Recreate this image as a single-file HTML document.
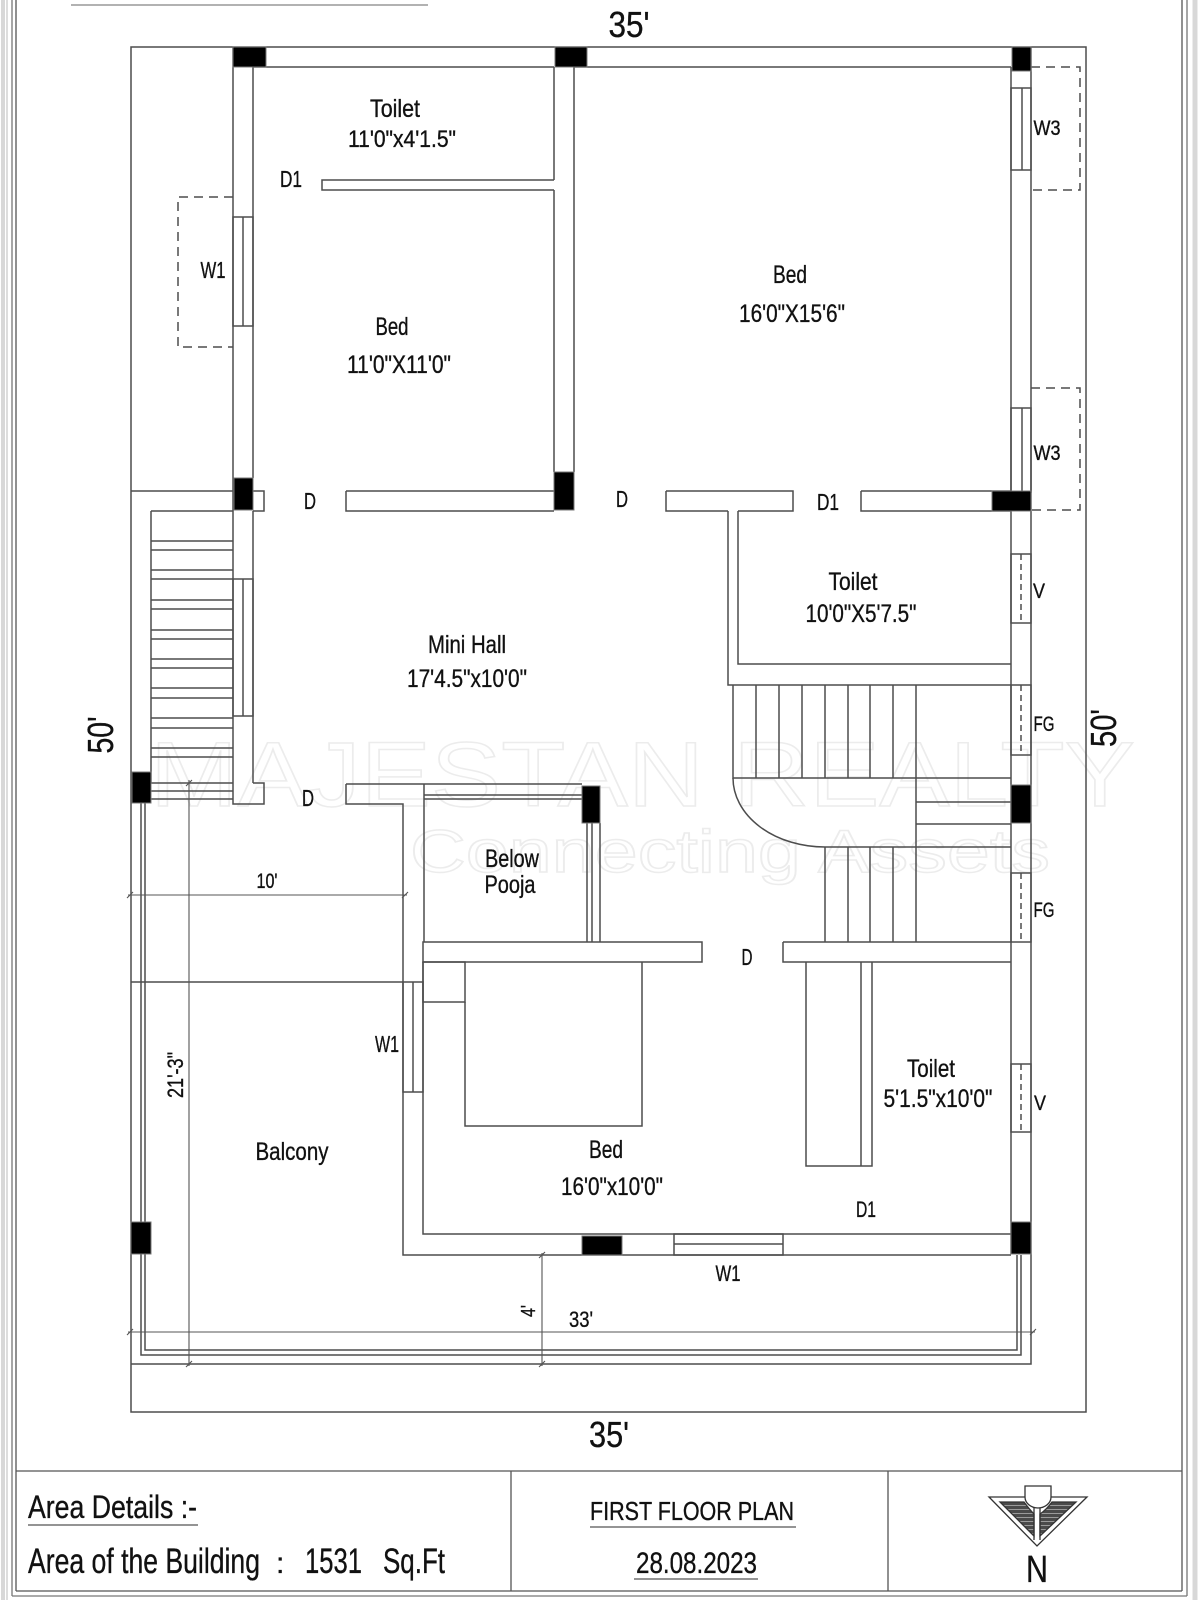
<!DOCTYPE html>
<html><head><meta charset="utf-8">
<style>
html,body{margin:0;padding:0;background:#fff;}
svg{display:block;}
text{font-family:"Liberation Sans Narrow","Liberation Sans",sans-serif;fill:#111;stroke:#111;stroke-width:0.35px;}
</style></head><body>
<svg width="1200" height="1600" viewBox="0 0 1200 1600" xmlns="http://www.w3.org/2000/svg">
<defs>
<pattern id="hatch" width="4" height="4" patternUnits="userSpaceOnUse">
<rect width="4" height="4" fill="#4a4a4a"/><line x1="0" y1="1.5" x2="4" y2="1.5" stroke="#9a9a9a" stroke-width="1"/>
</pattern>
</defs>
<rect width="1200" height="1600" fill="#fff"/>

<!-- watermark -->
<g fill="none" stroke="#ececec" stroke-width="1.5">
<text x="150" y="806" font-size="92" textLength="985" lengthAdjust="spacingAndGlyphs" style="fill:none;stroke:#ececec;stroke-width:1.5px;font-family:'Liberation Sans',sans-serif">MAJESTAN REALTY</text>
<text x="410" y="872" font-size="60" textLength="640" lengthAdjust="spacingAndGlyphs" style="fill:none;stroke:#ececec;stroke-width:1.5px;font-family:'Liberation Sans',sans-serif">Connecting Assets</text>
</g>

<!-- page frame -->
<g fill="none">
<line x1="3" y1="0" x2="3" y2="1600" stroke="#d8d8d8" stroke-width="4"/>
<line x1="7" y1="0" x2="7" y2="1600" stroke="#bbb" stroke-width="1"/>
<line x1="12" y1="0" x2="12" y2="1596" stroke="#777" stroke-width="1.3"/>
<line x1="16" y1="0" x2="16" y2="1591" stroke="#555" stroke-width="1.3"/>
<line x1="12" y1="1596" x2="1187" y2="1596" stroke="#777" stroke-width="1.3"/>
<line x1="16" y1="1591" x2="1182" y2="1591" stroke="#555" stroke-width="1.3"/>
<line x1="1182" y1="0" x2="1182" y2="1591" stroke="#555" stroke-width="1.3"/>
<line x1="1187" y1="0" x2="1187" y2="1596" stroke="#777" stroke-width="1.3"/>
<line x1="1195" y1="0" x2="1195" y2="1600" stroke="#d8d8d8" stroke-width="5"/>
<line x1="71" y1="5" x2="428" y2="5" stroke="#999" stroke-width="1.5"/>
</g>

<!-- title block -->
<g stroke="#555" stroke-width="1.3" fill="none">
<line x1="16" y1="1471" x2="1182" y2="1471"/>
<line x1="511" y1="1471" x2="511" y2="1591"/>
<line x1="888" y1="1471" x2="888" y2="1591"/>
<line x1="28" y1="1525" x2="198" y2="1525"/>
<line x1="590" y1="1527" x2="796" y2="1527"/>
<line x1="634" y1="1579" x2="758" y2="1579"/>
</g>
<text x="28" y="1518" font-size="32" textLength="169" lengthAdjust="spacingAndGlyphs">Area Details :-</text>
<text x="28" y="1573" font-size="35" textLength="232" lengthAdjust="spacingAndGlyphs">Area of the Building</text>
<text x="276" y="1573" font-size="30">:</text>
<text x="305" y="1573" font-size="35" textLength="57" lengthAdjust="spacingAndGlyphs">1531</text>
<text x="383" y="1573" font-size="35" textLength="62" lengthAdjust="spacingAndGlyphs">Sq.Ft</text>
<text x="590" y="1520" font-size="26" textLength="204" lengthAdjust="spacingAndGlyphs">FIRST FLOOR PLAN</text>
<text x="636" y="1573" font-size="30" textLength="121" lengthAdjust="spacingAndGlyphs">28.08.2023</text>

<!-- north arrow -->
<g stroke="#333" stroke-width="1.3">
<polygon points="989,1497 1087,1497 1037,1546" fill="#fff"/>
<path d="M1000,1502 L1024,1502 Q1030,1510 1034,1514 L1034,1536 Z" fill="url(#hatch)" stroke="#333"/>
<path d="M1076,1502 L1052,1502 Q1046,1510 1040,1514 L1040,1536 Z" fill="url(#hatch)" stroke="#333"/>
<path d="M1025,1486 H1051 V1497 A13 11 0 0 1 1025 1497 Z" fill="#fff"/>
<line x1="1034" y1="1508" x2="1034" y2="1540"/>
<line x1="1040" y1="1508" x2="1040" y2="1540"/>
</g>
<text x="1037" y="1582" font-size="38" text-anchor="middle" textLength="22" lengthAdjust="spacingAndGlyphs">N</text>

<!-- plan lines -->
<g fill="none" stroke="#4d4d4d" stroke-width="1.5">
<rect x="131" y="47" width="955" height="1365"/>
<path d="M253 67 H554 M574 67 H1011"/>
<path d="M233 47 V804 H264 V783 H253 M253 67 V478 M253 511 V783"/>
<rect x="233" y="217" width="20" height="109"/>
<line x1="243" y1="217" x2="243" y2="326"/>
<path d="M233 197 H178 V347 H233" stroke-dasharray="9,6"/>
<rect x="233" y="579" width="20" height="137"/>
<line x1="243" y1="579" x2="243" y2="716"/>
<path d="M554 67 V180 M554 190 V472 M574 67 V472"/>
<path d="M554 180 H322 V190 H554"/>
<path d="M131 491 H264 V511 H253 M151 511 H233"/>
<path d="M346 491 H554 M346 491 V511 H554"/>
<path d="M666 491 H793 V511 H738 M728 511 H666 V491"/>
<path d="M728 511 V685 H1011 M738 511 V664 H1011"/>
<path d="M861 491 H1011 M861 491 V511 H1011"/>
<path d="M1011 67 V1254 M1031 47 V1254"/>
<rect x="1011" y="88" width="20" height="82"/><line x1="1022" y1="88" x2="1022" y2="170"/>
<rect x="1011" y="408" width="20" height="84"/><line x1="1022" y1="408" x2="1022" y2="492"/>
<path d="M1031 67 H1080 V190 H1031 M1031 388 H1080 V510 H1031" stroke-dasharray="9,6"/>
<rect x="1011" y="554" width="20" height="69"/>
<rect x="1011" y="685" width="20" height="70"/>
<rect x="1011" y="873" width="20" height="69"/>
<rect x="1011" y="1064" width="20" height="68"/>
<g stroke-dasharray="6,4">
<line x1="1021" y1="554" x2="1021" y2="623"/>
<line x1="1021" y1="685" x2="1021" y2="755"/>
<line x1="1021" y1="873" x2="1021" y2="942"/>
<line x1="1021" y1="1064" x2="1021" y2="1132"/>
</g>
<path d="M151 511 V783"/>
<path d="M151 541 H233 M151 550 H233 M151 570 H233 M151 579 H233 M151 600 H233 M151 609 H233 M151 630 H233 M151 639 H233 M151 659 H233 M151 668 H233 M151 688 H233 M151 698 H233 M151 718 H233 M151 728 H233 M151 748 H233 M151 757 H233 M151 783 H233 M151 791 H233 M151 799 H233"/>
<path d="M733 685 V778 H1011"/>
<path d="M756 685 V778 M779 685 V778 M802 685 V778 M825 685 V778 M848 685 V778 M870 685 V778 M893 685 V778 M916 685 V778"/>
<path d="M733 778 A92 69 0 0 0 825 847 H1011"/>
<path d="M825 847 V942 M848 847 V942 M870 847 V942 M893 847 V942 M916 778 V942"/>
<path d="M916 802 H1011 M916 824 H1011"/>
<path d="M346 784 H582 M346 784 V804 H403 V1255 H1011"/>
<path d="M424 795 H582 M424 799 H582 M424 784 V942"/>
<path d="M587 823 V942 M592 823 V942 M600 823 V942"/>
<path d="M423 942 H702 V962 H423 Z"/>
<path d="M783 942 H1011 M783 942 V962 H1011"/>
<path d="M423 962 V1234 H1011"/>
<rect x="423" y="962" width="42" height="40"/>
<path d="M465 1002 V1126 H642 V962"/>
<path d="M806 962 V1166 H872 V962 M861 962 V1166"/>
<rect x="403" y="982" width="20" height="110"/><line x1="413" y1="982" x2="413" y2="1092"/>
<rect x="674" y="1234" width="109" height="21"/><line x1="674" y1="1244" x2="783" y2="1244"/>
<path d="M131 982 H403"/>
<path d="M141 803 V1355 H1021 V1255 M145 803 V1350 H1017 V1255 M1031 1254 V1364 H131"/>
</g>

<!-- dimension lines -->
<g fill="none" stroke="#555" stroke-width="1.1">
<path d="M128 895 H407 M189 780 V1366 M128 1332 H1035 M542 1253 V1366"/>
<path d="M127 898 L133 892 M402 898 L408 892 M186 786 L192 780 M186 1367 L192 1361 M127 1335 L133 1329 M1030 1335 L1036 1329 M539 1258 L545 1252 M539 1367 L545 1361"/>
</g>

<!-- columns -->
<g fill="#000" stroke="#777" stroke-width="1">
<rect x="233" y="47" width="33" height="20"/>
<rect x="555" y="47" width="32" height="20"/>
<rect x="1012" y="47" width="19" height="24"/>
<rect x="234" y="478" width="19" height="32"/>
<rect x="554" y="472" width="20" height="38"/>
<rect x="992" y="491" width="39" height="20"/>
<rect x="132" y="772" width="19" height="31"/>
<rect x="582" y="786" width="18" height="37"/>
<rect x="1011" y="785" width="20" height="38"/>
<rect x="131" y="1222" width="20" height="32"/>
<rect x="582" y="1236" width="40" height="19"/>
<rect x="1011" y="1222" width="20" height="32"/>
</g>

<!-- labels -->
<g text-anchor="middle">
<text x="629" y="37" font-size="36" textLength="41" lengthAdjust="spacingAndGlyphs">35'</text>
<text x="609" y="1447" font-size="36" textLength="40" lengthAdjust="spacingAndGlyphs">35'</text>
<text transform="translate(113,735) rotate(-90)" x="0" y="0" font-size="36" textLength="37" lengthAdjust="spacingAndGlyphs">50'</text>
<text transform="translate(1116,728) rotate(-90)" x="0" y="0" font-size="36" textLength="38" lengthAdjust="spacingAndGlyphs">50'</text>

<text x="395" y="117" font-size="25" textLength="50" lengthAdjust="spacingAndGlyphs">Toilet</text>
<text x="402" y="147" font-size="24" textLength="108" lengthAdjust="spacingAndGlyphs">11'0"x4'1.5"</text>
<text x="291" y="187" font-size="23" textLength="22" lengthAdjust="spacingAndGlyphs">D1</text>
<text x="213" y="278" font-size="23" textLength="25" lengthAdjust="spacingAndGlyphs">W1</text>
<text x="392" y="335" font-size="25" textLength="33" lengthAdjust="spacingAndGlyphs">Bed</text>
<text x="399" y="373" font-size="25" textLength="104" lengthAdjust="spacingAndGlyphs">11'0"X11'0"</text>
<text x="310" y="509" font-size="23" textLength="12" lengthAdjust="spacingAndGlyphs">D</text>
<text x="790" y="283" font-size="25" textLength="34" lengthAdjust="spacingAndGlyphs">Bed</text>
<text x="792" y="322" font-size="25" textLength="106" lengthAdjust="spacingAndGlyphs">16'0"X15'6"</text>
<text x="622" y="507" font-size="23" textLength="12" lengthAdjust="spacingAndGlyphs">D</text>
<text x="828" y="510" font-size="23" textLength="22" lengthAdjust="spacingAndGlyphs">D1</text>
<text x="1047" y="135" font-size="21" textLength="27" lengthAdjust="spacingAndGlyphs">W3</text>
<text x="1047" y="460" font-size="21" textLength="27" lengthAdjust="spacingAndGlyphs">W3</text>
<text x="467" y="653" font-size="25" textLength="78" lengthAdjust="spacingAndGlyphs">Mini Hall</text>
<text x="467" y="687" font-size="25" textLength="120" lengthAdjust="spacingAndGlyphs">17'4.5"x10'0"</text>
<text x="308" y="806" font-size="23" textLength="12" lengthAdjust="spacingAndGlyphs">D</text>
<text x="512" y="867" font-size="25" textLength="54" lengthAdjust="spacingAndGlyphs">Below</text>
<text x="510" y="893" font-size="25" textLength="51" lengthAdjust="spacingAndGlyphs">Pooja</text>
<text x="267" y="888" font-size="21" textLength="21" lengthAdjust="spacingAndGlyphs">10'</text>
<text x="853" y="590" font-size="25" textLength="49" lengthAdjust="spacingAndGlyphs">Toilet</text>
<text x="861" y="622" font-size="25" textLength="111" lengthAdjust="spacingAndGlyphs">10'0"X5'7.5"</text>
<text x="1039" y="598" font-size="21" textLength="12" lengthAdjust="spacingAndGlyphs">V</text>
<text x="1044" y="731" font-size="21" textLength="21" lengthAdjust="spacingAndGlyphs">FG</text>
<text x="1044" y="917" font-size="21" textLength="21" lengthAdjust="spacingAndGlyphs">FG</text>
<text x="747" y="965" font-size="23" textLength="11" lengthAdjust="spacingAndGlyphs">D</text>
<text x="387" y="1052" font-size="23" textLength="24" lengthAdjust="spacingAndGlyphs">W1</text>
<text transform="translate(183,1075) rotate(-90)" x="0" y="0" font-size="22" textLength="46" lengthAdjust="spacingAndGlyphs">21'-3"</text>
<text x="292" y="1160" font-size="25" textLength="73" lengthAdjust="spacingAndGlyphs">Balcony</text>
<text x="606" y="1158" font-size="25" textLength="34" lengthAdjust="spacingAndGlyphs">Bed</text>
<text x="612" y="1195" font-size="25" textLength="102" lengthAdjust="spacingAndGlyphs">16'0"x10'0"</text>
<text x="931" y="1077" font-size="25" textLength="48" lengthAdjust="spacingAndGlyphs">Toilet</text>
<text x="938" y="1107" font-size="25" textLength="109" lengthAdjust="spacingAndGlyphs">5'1.5"x10'0"</text>
<text x="1040" y="1110" font-size="21" textLength="12" lengthAdjust="spacingAndGlyphs">V</text>
<text x="866" y="1217" font-size="22" textLength="20" lengthAdjust="spacingAndGlyphs">D1</text>
<text x="728" y="1281" font-size="22" textLength="25" lengthAdjust="spacingAndGlyphs">W1</text>
<text transform="translate(535,1311) rotate(-90)" x="0" y="0" font-size="20" textLength="12" lengthAdjust="spacingAndGlyphs">4'</text>
<text x="581" y="1327" font-size="22" textLength="24" lengthAdjust="spacingAndGlyphs">33'</text>
</g>
</svg>
</body></html>
